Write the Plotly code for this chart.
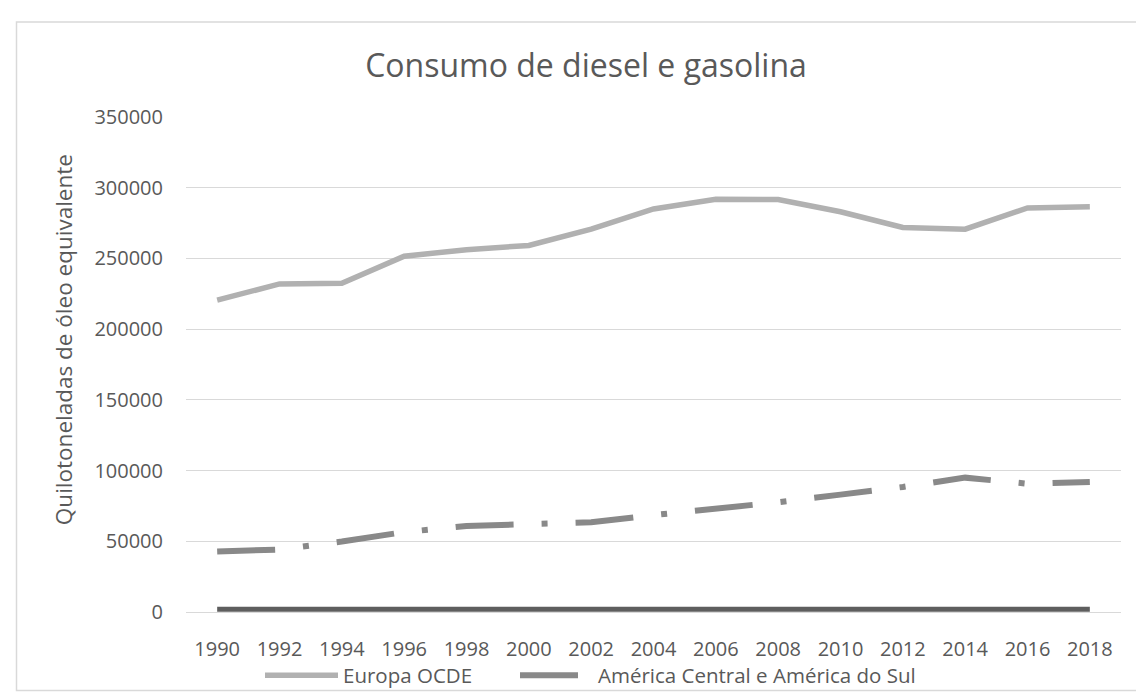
import plotly.graph_objects as go

years = [1990, 1992, 1994, 1996, 1998, 2000, 2002, 2004, 2006, 2008, 2010, 2012, 2014, 2016, 2018]
year_labels = [str(y) for y in years]
europa_ocde = [220500, 232000, 232500, 251600, 256200, 259200, 270700, 285000, 291900, 291700,
               283000, 271900, 270700, 285700, 286600]
america_cs = [42700, 44200, 49800, 56500, 60800, 62000, 63500, 68500, 72800, 77600,
              83000, 88400, 95000, 90700, 92000]
ano = years  # the year column also plotted as a series (flat line near 0)

W, H = 1144, 699
ML, MR, MT, MB = 178, 31, 109, 82
PW, PH = W - ML - MR, H - MT - MB

def px_x(p):
    return (p - ML) / PW

def px_y(p):
    return (H - MB - p) / PH

text_col = "#595959"
font_family = "Open Sans, Noto Sans, sans-serif"

fig = go.Figure()
fig.add_trace(go.Scatter(
    x=year_labels, y=europa_ocde, name="Europa OCDE", mode="lines",
    line=dict(color="#b1b1b1", width=5.5), legend="legend"))
fig.add_trace(go.Scatter(
    x=year_labels, y=america_cs, name="América Central e América do Sul", mode="lines",
    line=dict(color="#898989", width=6, dash="58px,28px,6px,28px"), legend="legend2"))
fig.add_trace(go.Scatter(
    x=year_labels, y=ano, name="Ano", mode="lines", showlegend=False,
    line=dict(color="#5e5e5e", width=5)))

legend_common = dict(orientation="h", xanchor="left", y=px_y(682), yanchor="middle",
                     font=dict(size=20.5, color=text_col, family=font_family), itemwidth=73,
                     bgcolor="rgba(0,0,0,0)", borderwidth=0)

fig.update_layout(
    width=W, height=H, autosize=False,
    margin=dict(l=ML, r=MR, t=MT, b=MB),
    paper_bgcolor="white", plot_bgcolor="white",
    font=dict(family=font_family, color=text_col, size=20),
    title=dict(text="Consumo de diesel e gasolina", x=578 / W, xanchor="center",
               y=1 - 58 / H, yanchor="middle",
               font=dict(size=32, color=text_col, family=font_family)),
    showlegend=True,
    legend=dict(x=px_x(252), **legend_common),
    legend2=dict(x=px_x(507), **legend_common),
    hovermode=False,
)
fig.update_xaxes(type="category", range=[-0.5, len(years) - 0.5], showgrid=False,
                 showline=True, linecolor="#d9d9d9", linewidth=1, ticks="",
                 ticklabelstandoff=19, tickfont=dict(size=20, color=text_col), zeroline=False)
fig.update_yaxes(range=[0, 350000], dtick=50000, tickformat="d", showgrid=True,
                 gridcolor="#d9d9d9", gridwidth=1, zeroline=False, showline=False, ticks="",
                 ticklabelstandoff=22, tickfont=dict(size=20, color=text_col))

fig.add_annotation(text="Quilotoneladas de óleo equivalente", textangle=-90,
                   xref="paper", yref="paper", x=px_x(55), y=px_y(338),
                   xanchor="center", yanchor="middle", showarrow=False,
                   font=dict(size=22.5, color=text_col, family=font_family))

fig.add_shape(type="rect", xref="paper", yref="paper",
              x0=px_x(8.5), x1=px_x(1139.5), y0=px_y(697.5), y1=px_y(11.5),
              line=dict(color="#d9d9d9", width=1.5), fillcolor="rgba(0,0,0,0)", layer="below")

fig.write_html("out.html")
